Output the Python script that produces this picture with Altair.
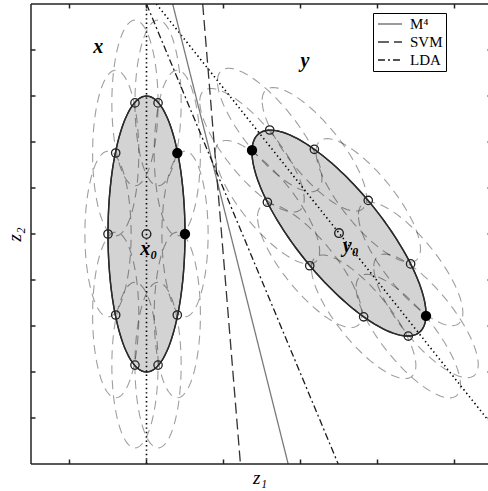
import numpy as np
import pandas as pd
import altair as alt

# plotting window in (z1, z2)
Z1_DOMAIN = [-0.5, 5.435]
Z2_DOMAIN = [0.0, 10.0]
Z1_TICKS = [0, 1, 2, 3, 4, 5]
Z2_TICKS = [1, 2, 3, 4, 5, 6, 7, 8, 9]

# class centres
X_CENTRE = [1.0, 5.0]
Y_CENTRE = [3.5, 5.02]

# conjugate radii of each class ellipse: boundary = centre + u cos t + v sin t
X_U = [0.5, 0.0]
X_V = [0.0, 3.0]
Y_U = [-1.13, 1.80]
Y_V = [0.03, 1.33]

# neighbourhood ellipses drawn around each boundary sample, relative size
NEIGHBOUR_SCALE = 0.6

# boundary samples of class x (1 = support point)
X_Z1 = [1.50, 1.40, 1.15, 0.85, 0.60, 0.50, 0.60, 0.85, 1.15, 1.40]
X_Z2 = [5.00, 6.76, 7.85, 7.85, 6.76, 5.00, 3.24, 2.15, 2.15, 3.24]
X_SUPPORT = [1, 1, 0, 0, 0, 0, 0, 0, 0, 0]

# boundary samples of class y (1 = support point)
Y_Z1 = [2.37, 2.60, 3.18, 3.88, 4.43, 4.63, 4.40, 3.82, 3.12, 2.57]
Y_Z2 = [6.82, 7.26, 6.84, 5.73, 4.35, 3.22, 2.78, 3.20, 4.31, 5.69]
Y_SUPPORT = [1, 0, 0, 0, 0, 1, 0, 0, 0, 0]

# slope of the principal axis of class y
Y_AXIS_SLOPE = -2.1

# separating boundaries: z1 where each one meets the top (z2=10) and bottom (z2=0)
METHODS = ["M\u2074", "SVM", "LDA"]
Z1_AT_TOP = [1.34, 1.73, 1.00]
Z1_AT_BOTTOM = [2.84, 2.22, 3.49]
METHOD_COLORS = ["#7a7a7a", "#333333", "#1a1a1a"]
METHOD_DASHES = [[1, 0], [11, 5], [7, 3, 2, 3]]

# annotations
LABEL_TEXT = ["x", "y", "x\u2080", "y\u2080"]
LABEL_Z1 = [0.31, 3.0, 0.92, 3.55]
LABEL_Z2 = [8.93, 8.63, 4.54, 4.61]

SERIF = "Liberation Serif"
t = np.linspace(0, 2 * np.pi, 181)


def ellipse(cx, cy, u, v, scale, key):
    return pd.DataFrame({
        "z1": cx + scale * (u[0] * np.cos(t) + v[0] * np.sin(t)),
        "z2": cy + scale * (u[1] * np.cos(t) + v[1] * np.sin(t)),
        "k": key,
        "i": np.arange(len(t)),
    })


classes = pd.concat([
    ellipse(X_CENTRE[0], X_CENTRE[1], X_U, X_V, 1.0, "x"),
    ellipse(Y_CENTRE[0], Y_CENTRE[1], Y_U, Y_V, 1.0, "y"),
])

neigh = pd.concat(
    [ellipse(a, b, X_U, X_V, NEIGHBOUR_SCALE, f"x{j}") for j, (a, b) in enumerate(zip(X_Z1, X_Z2))]
    + [ellipse(a, b, Y_U, Y_V, NEIGHBOUR_SCALE, f"y{j}") for j, (a, b) in enumerate(zip(Y_Z1, Y_Z2))]
)

samples = pd.DataFrame({
    "z1": X_Z1 + Y_Z1,
    "z2": X_Z2 + Y_Z2,
    "support": X_SUPPORT + Y_SUPPORT,
})
centres = pd.DataFrame({"z1": [X_CENTRE[0], Y_CENTRE[0]], "z2": [X_CENTRE[1], Y_CENTRE[1]]})

axes_df = pd.DataFrame({
    "z1": [X_CENTRE[0], X_CENTRE[0],
           Y_CENTRE[0] + (Z2_DOMAIN[1] - Y_CENTRE[1]) / Y_AXIS_SLOPE,
           Y_CENTRE[0] + (Z2_DOMAIN[0] - Y_CENTRE[1]) / Y_AXIS_SLOPE],
    "z2": [Z2_DOMAIN[0], Z2_DOMAIN[1], Z2_DOMAIN[1], Z2_DOMAIN[0]],
    "k": ["x", "x", "y", "y"],
    "i": [0, 1, 0, 1],
})

bounds = pd.DataFrame({
    "z1": Z1_AT_TOP + Z1_AT_BOTTOM,
    "z2": [Z2_DOMAIN[1]] * 3 + [Z2_DOMAIN[0]] * 3,
    "method": METHODS + METHODS,
    "i": [0, 0, 0, 1, 1, 1],
})

labels = pd.DataFrame({"z1": LABEL_Z1, "z2": LABEL_Z2, "text": LABEL_TEXT})

# frame and inward ticks
lo1, hi1 = Z1_DOMAIN
lo2, hi2 = Z2_DOMAIN
tx = 4.5 / 77.0
ty = 4.5 / 46.0
frame_rows = [
    (lo1, hi2, 5.6, hi2), (lo1, lo2, 5.6, lo2), (lo1, lo2, lo1, hi2),
]
for v in Z2_TICKS:
    frame_rows.append((lo1, v, lo1 + tx, v))
    frame_rows.append((5.487 - tx, v, 5.6, v))
for v in Z1_TICKS:
    frame_rows.append((v, lo2, v, lo2 + ty))
    frame_rows.append((v, hi2, v, hi2 - ty))
frame = pd.DataFrame(frame_rows, columns=["z1", "z2", "z1b", "z2b"])

xs = alt.Scale(domain=Z1_DOMAIN, nice=False, zero=False)
ys = alt.Scale(domain=Z2_DOMAIN, nice=False, zero=False)
X = alt.X("z1:Q", scale=xs, axis=alt.Axis(
    title="z\u2081", labels=False, ticks=False, domain=False, grid=False,
    titleFont=SERIF, titleFontStyle="italic", titleFontWeight="normal",
    titleFontSize=19, titlePadding=4, titleColor="black"))
Y = alt.Y("z2:Q", scale=ys, axis=alt.Axis(
    title="z\u2082", labels=False, ticks=False, domain=False, grid=False,
    titleFont=SERIF, titleFontStyle="italic", titleFontWeight="normal",
    titleFontSize=19, titlePadding=7, titleColor="black"))

# legend key: a horizontal stroke wider than the nominal symbol box
legend = alt.Legend(
    title=None, orient="none", legendX=342, legendY=9,
    direction="vertical", strokeColor="black", fillColor="white",
    padding=3, symbolType="M-1.7,0H1.7", symbolSize=200, symbolOffset=6,
    symbolStrokeWidth=1.3, labelFont=SERIF, labelFontSize=15,
    labelColor="black", labelOffset=12, rowPadding=2, labelLimit=60)

class_fill = alt.Chart(classes).mark_line(
    fill="#d3d3d3", stroke="#2b2b2b", strokeWidth=1.4
).encode(x=X, y=Y, detail="k:N", order="i:Q")

neigh_lines = alt.Chart(neigh).mark_line(
    stroke="black", strokeOpacity=0.38, strokeWidth=1.1, strokeDash=[9, 6], clip=True
).encode(x=X, y=Y, detail="k:N", order="i:Q")

class_outline = alt.Chart(classes).mark_line(
    stroke="#2b2b2b", strokeWidth=1.4
).encode(x=X, y=Y, detail="k:N", order="i:Q")

axis_lines = alt.Chart(axes_df).mark_line(
    stroke="black", strokeWidth=1.6, strokeDash=[1.4, 3], clip=True
).encode(x=X, y=Y, detail="k:N", order="i:Q")

boundary_lines = alt.Chart(bounds).mark_line(strokeWidth=1.3, clip=True).encode(
    x=X, y=Y, order="i:Q",
    color=alt.Color("method:N", scale=alt.Scale(domain=METHODS, range=METHOD_COLORS),
                    legend=legend),
    strokeDash=alt.StrokeDash("method:N", scale=alt.Scale(domain=METHODS, range=METHOD_DASHES),
                              legend=legend),
)

open_pts = alt.Chart(samples).transform_filter("datum.support == 0").mark_point(
    shape="circle", size=70, filled=False, stroke="#222222", strokeWidth=1.3, opacity=1
).encode(x=X, y=Y)

solid_pts = alt.Chart(samples).transform_filter("datum.support == 1").mark_point(
    shape="circle", size=70, filled=True, fill="black", stroke="black", opacity=1
).encode(x=X, y=Y)

centre_pts = alt.Chart(centres).mark_point(
    shape="circle", size=75, filled=False, stroke="#222222", strokeWidth=1.4, opacity=1
).encode(x=X, y=Y)

text = alt.Chart(labels).mark_text(
    font=SERIF, fontSize=20, fontStyle="italic", fontWeight="bold",
    align="left", baseline="alphabetic", color="black"
).encode(x=X, y=Y, text="text:N")

frame_lines = alt.Chart(frame).mark_rule(color="#222222", strokeWidth=1.5).encode(
    x=X, y=Y, x2="z1b:Q", y2="z2b:Q")

chart = alt.layer(
    class_fill, neigh_lines, class_outline, axis_lines, boundary_lines,
    open_pts, solid_pts, centre_pts, text, frame_lines
).properties(
    width=457, height=460,
    autosize=alt.AutoSizeParams(type="none"),
    padding={"left": 31, "top": 4, "right": 0, "bottom": 27},
    background="white",
).configure_view(stroke=None)

chart.save("out.html", embed_options={"renderer": "svg", "actions": False})
